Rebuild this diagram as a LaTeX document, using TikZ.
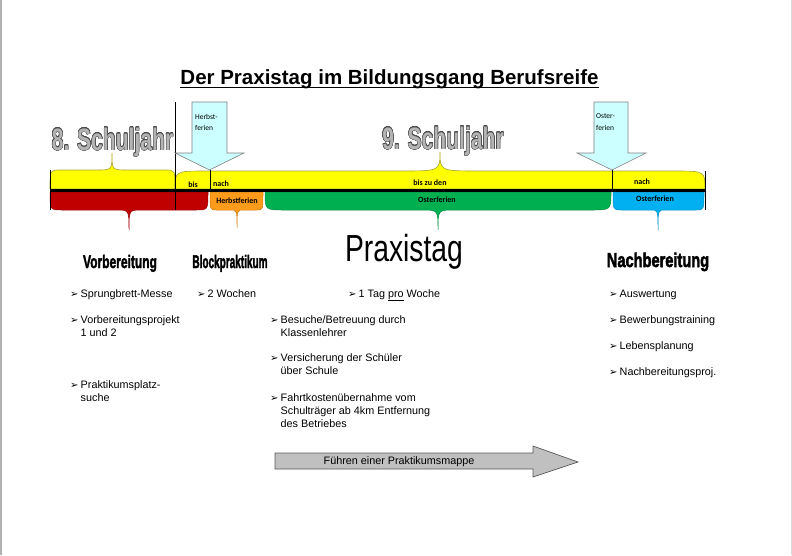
\documentclass[tikz,border=0pt]{standalone}
\usepackage{graphicx}
\usepackage{fontspec}
\setmainfont{Liberation Sans}
\newfontfamily\labelfont{Carlito}
\newfontfamily\symfont{DejaVu Sans}
\newfontfamily\heavyfont[BoldFeatures={FakeBold=2.5}]{Liberation Sans}
\usepackage[copies]{contour}
\contourlength{0.6pt}

\definecolor{yellowfill}{HTML}{FFFF00}
\definecolor{yellowline}{HTML}{A3A336}
\definecolor{redfill}{HTML}{C00000}
\definecolor{orangefill}{HTML}{FF9B1A}
\definecolor{greenfill}{HTML}{00B050}
\definecolor{bluefill}{HTML}{00B0F0}
\definecolor{ferienfill}{HTML}{CCFFFF}
\definecolor{mappefill}{HTML}{C0C0C0}
\definecolor{yeargray}{HTML}{B4B4B4}
\definecolor{yearline}{HTML}{4A4A4A}

% style, x1, x2, xtip, ybase, yedge, ytip, corner, half width of tip
\newcommand{\timebrace}[9]{%
  \filldraw[#1] (#2,#5) .. controls (#2,#6) .. ({#2+#8},#6) -- ({#4-#9},#6)
    .. controls (#4,#6) .. (#4,#7) .. controls (#4,#6) .. ({#4+#9},#6)
    -- ({#3-#8},#6) .. controls (#3,#6) .. (#3,#5) -- cycle;}
\newcommand{\squeeze}[2]{\scalebox{#1}[1]{#2}}
\newcommand{\bul}{\makebox[10.5pt][l]{\symfont\fontsize{10}{10}\selectfont ➢}}
\newcommand{\ind}{\hspace*{10.5pt}}
\newcommand{\toplines}[1]{\begin{tabular}[t]{@{}l@{}}#1\end{tabular}}

\begin{document}
\begin{tikzpicture}[x=1pt,y=-1pt,
    yearbrace/.style={fill=yellowfill,draw=yellowline,line width=0.6pt},
    redbrace/.style={fill=redfill,draw=redfill!80!black,line width=0.5pt},
    orangebrace/.style={fill=orangefill,draw=orangefill!80!black,line width=0.5pt},
    greenbrace/.style={fill=greenfill,draw=greenfill!80!black,line width=0.5pt},
    bluebrace/.style={fill=bluefill,draw=bluefill!80!black,line width=0.5pt},
    ferienarrow/.style={fill=ferienfill,draw=gray,line width=0.6pt},
    tag/.style={inner sep=0pt,font=\labelfont\bfseries\fontsize{8}{9}\selectfont},
    arrowtext/.style={anchor=base west,inner sep=0pt,font=\labelfont\fontsize{7.5}{11.5}\selectfont},
    item/.style={anchor=base west,inner sep=0pt,font=\fontsize{10.8}{13}\selectfont},
    heading/.style={anchor=base,inner sep=0pt}]
\useasboundingbox (0,0) rectangle (792,555);
\draw[gray!60,line width=1.5pt] (0.75,0) -- (0.75,555);
\draw[gray!30,line width=1pt] (791.5,0) -- (791.5,555);

\node[heading,font=\bfseries\fontsize{20.5}{22}\selectfont] (title) at (389.5,84) {Der Praxistag im Bildungsgang Berufsreife};
\draw[line width=1.6pt] ([yshift=-3.5pt]title.base west) -- ([yshift=-3.5pt]title.base east);

\timebrace{yearbrace}{50}{175}{112}{189}{170}{153}{10}{15}
\timebrace{yearbrace}{175}{705}{440}{189}{171}{152}{32}{40}
\timebrace{redbrace}{50}{208}{129}{192}{210}{230}{12}{13}
\timebrace{orangebrace}{210}{263}{237}{192}{210}{228}{6}{7}
\timebrace{greenbrace}{265}{611}{438}{192}{210}{230}{20}{16}
\timebrace{bluebrace}{613}{704}{658}{192}{210}{230}{8}{7}

\draw[line width=3pt] (50,190.5) -- (705,190.5);
\draw (50,170) -- (50,210) (175,102) -- (175,210) (210,170) -- (210,190)
  (612,170) -- (612,190) (705,171) -- (705,210);

\filldraw[ferienarrow] (192,102) -- (227,102) -- (227,153) -- (244,153) -- (209.5,170)
  -- (175,153) -- (192,153) -- cycle;
\filldraw[ferienarrow] (594,102) -- (628,102) -- (628,153) -- (646,153) -- (612,170)
  -- (577,153) -- (594,153) -- cycle;
\node[arrowtext] (herbst) at (195,119) {\toplines{Herbst-\\ferien}};
\node[arrowtext] (oster) at (596,118.5) {\toplines{Oster-\\ferien}};

\node[heading] (sj8) at (112.5,150) {\squeeze{0.68}{\fontsize{31}{31}\selectfont\bfseries\contour{yearline}{\textcolor{yeargray}{8. Schuljahr}}}};
\node[heading] (sj9) at (443,149) {\squeeze{0.68}{\fontsize{31}{31}\selectfont\bfseries\contour{yearline}{\textcolor{yeargray}{9. Schuljahr}}}};

\node[tag] (bis) at (193,185) {bis};
\node[tag] (nach1) at (221,184) {nach};
\node[tag] (herbstf) at (237,201) {Herbstferien};
\node[tag] (biszu) at (430,183) {bis zu den};
\node[tag] (osterf1) at (437,199.5) {Osterferien};
\node[tag] (nach2) at (642,182) {nach};
\node[tag] (osterf2) at (655,198.5) {Osterferien};

\node[heading] (vorb) at (120,268) {\squeeze{0.66}{\heavyfont\bfseries\fontsize{18.2}{20}\selectfont Vorbereitung}};
\node[heading] (block) at (230,268) {\squeeze{0.55}{\heavyfont\bfseries\fontsize{18.2}{20}\selectfont Blockpraktikum}};
\node[heading] (praxis) at (404,261) {\squeeze{0.75}{\fontsize{37.7}{40}\selectfont Praxistag}};
\node[heading] (nachb) at (658,267) {\squeeze{0.73}{\heavyfont\bfseries\fontsize{20}{22}\selectfont Nachbereitung}};

\node[item] (v1) at (70,297) {\bul Sprungbrett-Messe};
\node[item] (v2) at (70,323) {\toplines{\bul Vorbereitungsprojekt\\\ind 1 und 2}};
\node[item] (v3) at (70,388) {\toplines{\bul Praktikumsplatz-\\\ind suche}};
\node[item] (b1) at (197,297) {\bul 2 Wochen};
\node[item] (p1) at (348,297) {\bul 1 Tag \underline{pro} Woche};
\node[item] (p2) at (270,323) {\toplines{\bul Besuche/Betreuung durch\\\ind Klassenlehrer}};
\node[item] (p3) at (270,361) {\toplines{\bul Versicherung der Schüler\\\ind über Schule}};
\node[item] (p4) at (270,401) {\toplines{\bul Fahrtkostenübernahme vom\\\ind Schulträger ab 4km Entfernung\\\ind des Betriebes}};
\node[item] (n1) at (609,297) {\bul Auswertung};
\node[item] (n2) at (609,323) {\bul Bewerbungstraining};
\node[item] (n3) at (609,349) {\bul Lebensplanung};
\node[item] (n4) at (609,375) {\bul Nachbereitungsproj.};

\filldraw[fill=mappefill,draw=black!65,line width=0.7pt] (275,453) -- (533,453) -- (533,446)
  -- (578,462) -- (533,477) -- (533,469) -- (275,469) -- cycle;
\node[inner sep=0pt,font=\fontsize{10.8}{13}\selectfont] (mappe) at (399,461.5) {Führen einer Praktikumsmappe};
\end{tikzpicture}
\end{document}
